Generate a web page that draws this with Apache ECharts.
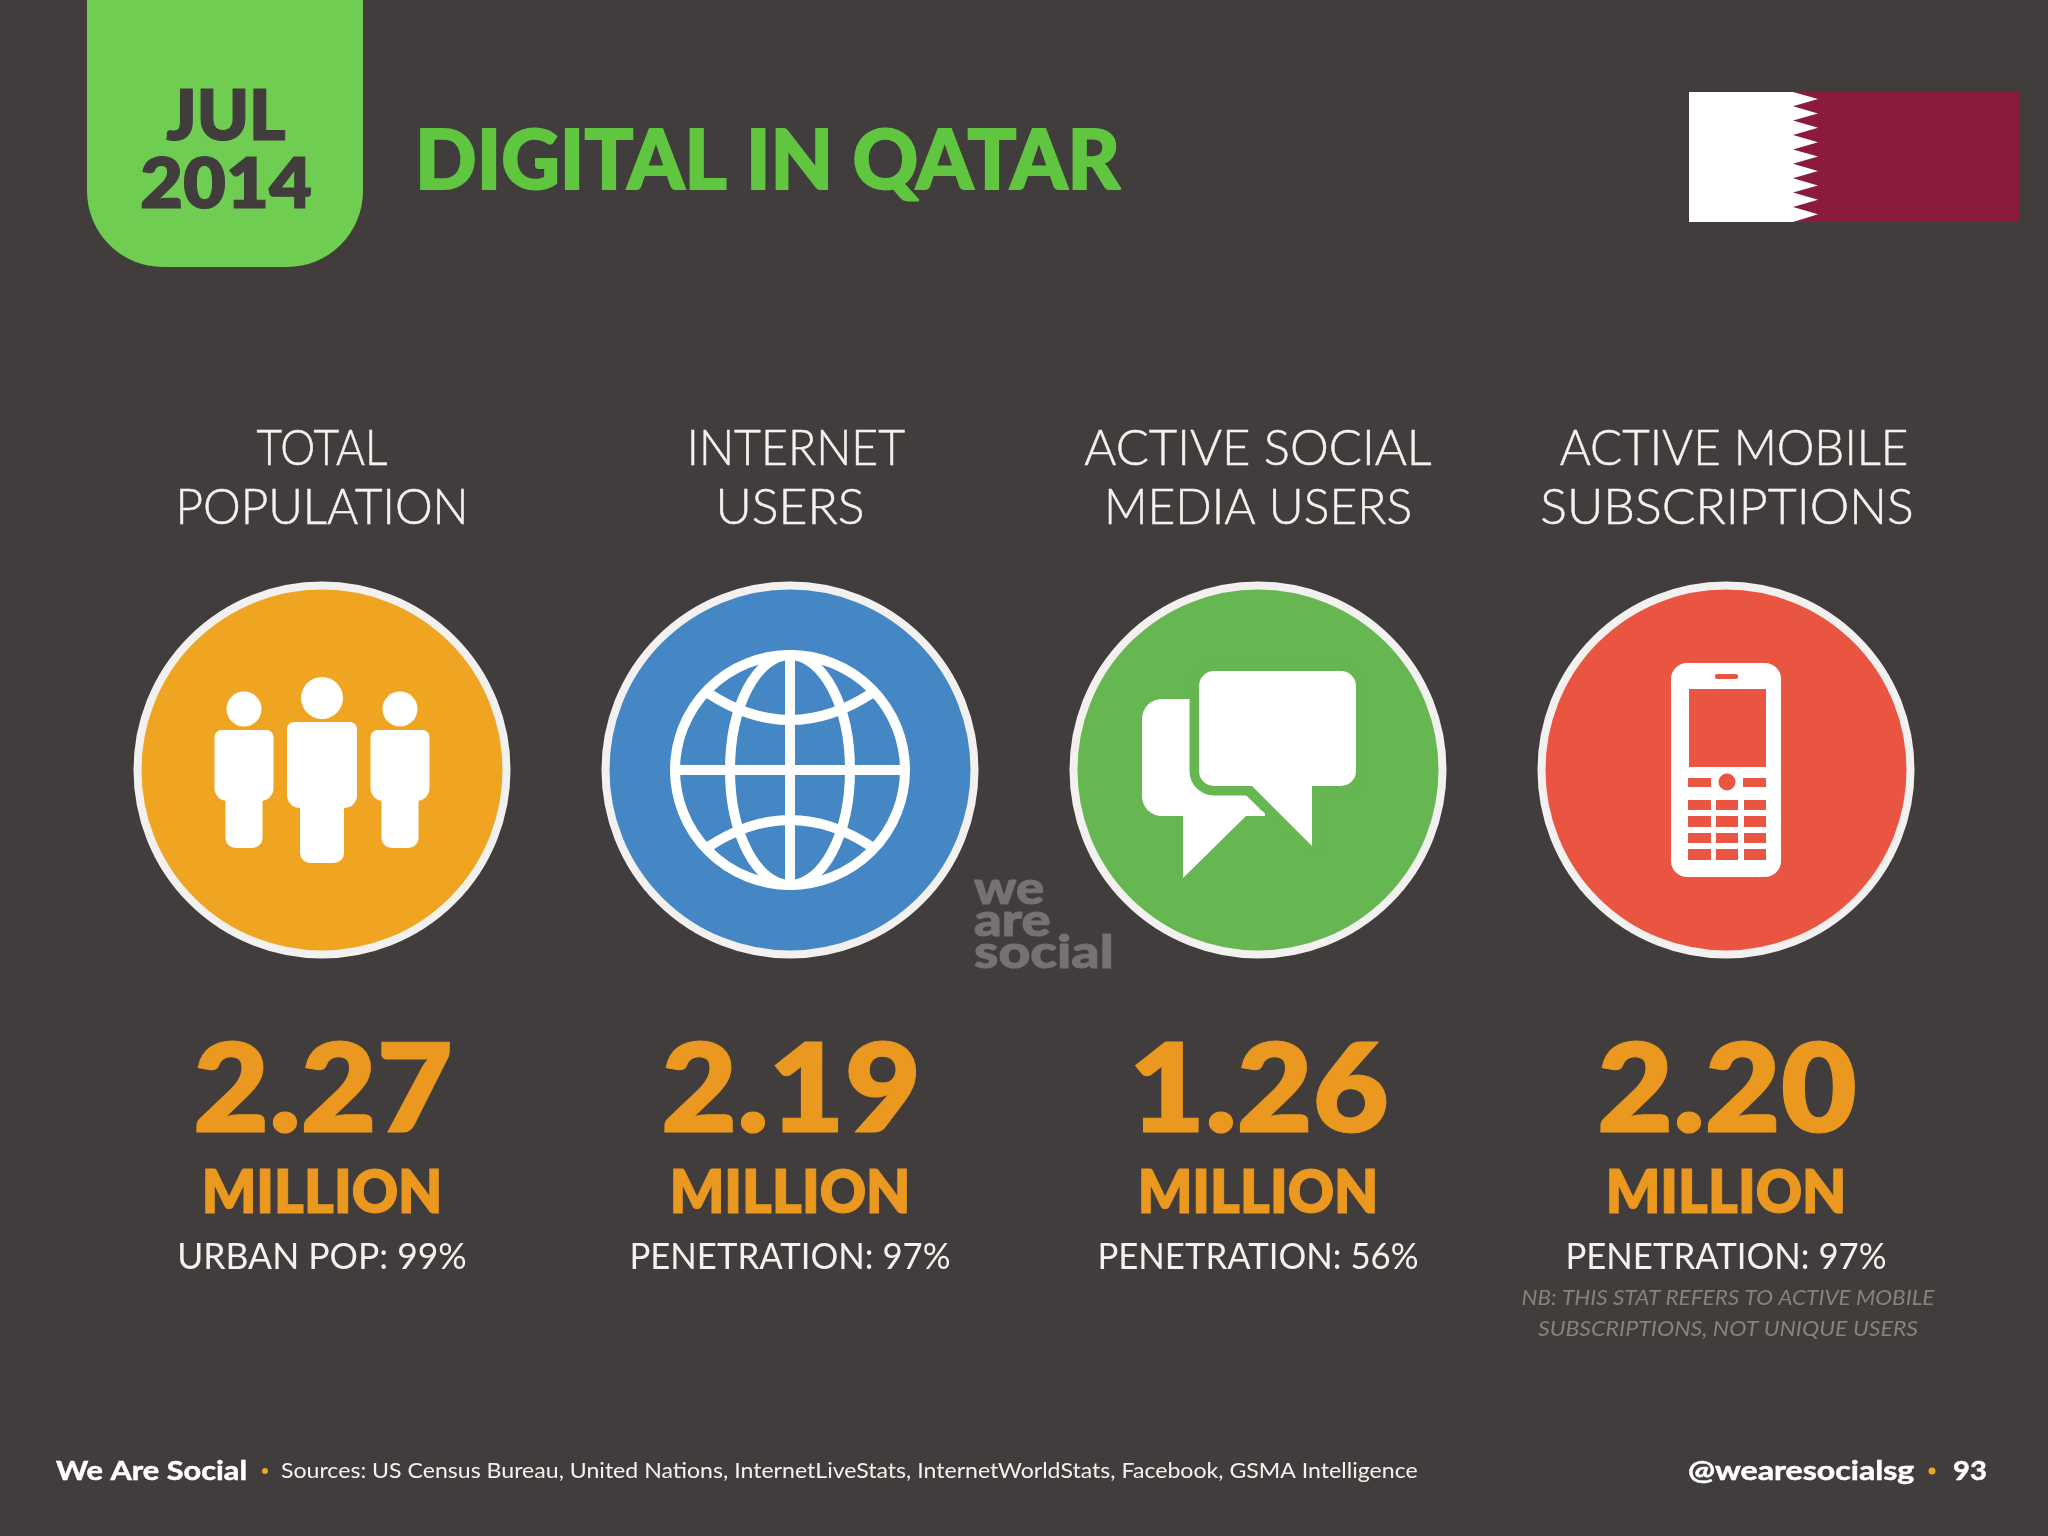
<!DOCTYPE html>
<html>
<head>
<meta charset="utf-8">
<title>Digital in Qatar</title>
<style>
  html, body { margin: 0; padding: 0; background: #413d3c; }
  #output { width: 2048px; height: 1536px; }
</style>
</head>
<body>
<div id="output"></div>
<script src="https://cdn.jsdelivr.net/npm/echarts@6/dist/echarts.min.js"></script>
<script>
const headings = [['TOTAL', 'POPULATION'], ['INTERNET', 'USERS'], ['ACTIVE SOCIAL', 'MEDIA USERS'], ['ACTIVE MOBILE', 'SUBSCRIPTIONS']]
const categories = headings.map(h => h.join(' '))
const values = [2.27, 2.19, 1.26, 2.20]
const unit = 'MILLION'
const subLabels = ['URBAN POP: 99%', 'PENETRATION: 97%', 'PENETRATION: 56%', 'PENETRATION: 97%']
const note = ['NB: THIS STAT REFERS TO ACTIVE MOBILE', 'SUBSCRIPTIONS, NOT UNIQUE USERS']
const sources = 'Sources: US Census Bureau, United Nations, InternetLiveStats, InternetWorldStats, Facebook, GSMA Intelligence'

const BG = '#413d3c'
const WHITE = '#ffffff'
const RING = '#f3f1ef'
const ORANGE = '#ea981f'
const LIGHT = '#f4f2f0'
const NOTE = '#86827e'
const MARK = '#767272'
const FONT = 'Lato, sans-serif'
const circleColors = ['#efa521', '#4586c5', '#66b651', '#e95540']
// horizontal squeeze and nudge per heading line, Lato runs wider than the slide font
const headingFit = [[[0.885, 0], [0.953, 0]], [[0.93, 6], [1, 0]], [[0.98, 0], [0.96, 0]], [[0.95, 8], [1, 1]]]

const chart = echarts.init(document.getElementById('output'))

function text (str, x, y, size, weight, fill, opts = {}) {
  return {
    type: 'text',
    x,
    y,
    scaleX: opts.scaleX || 1,
    style: {
      text: str,
      fill,
      font: `${opts.italic ? 'italic' : ''} ${weight} ${size}px ${FONT}`,
      align: opts.align || 'center',
      verticalAlign: 'middle',
      stroke: opts.bold ? fill : null,
      lineWidth: opts.bold || 0
    }
  }
}

function box (x0, y0, x1, y1, r, fill) {
  return { type: 'rect', shape: { x: x0, y: y0, width: x1 - x0, height: y1 - y0, r }, style: { fill } }
}

function dot (cx, cy, r, fill) {
  return { type: 'circle', shape: { cx, cy, r }, style: { fill } }
}

function peopleIcon () {
  const person = (dx, headY, headR, bx, top, mid, lx, bottom) => [
    dot(dx, headY, headR, WHITE),
    box(dx - bx, top, dx + bx, mid, [7, 7, 13, 13], WHITE),
    box(dx - lx, mid - 8, dx + lx, bottom, [0, 0, 10, 10], WHITE)
  ]
  return [
    ...person(-78, -61, 17.5, 29.5, -40, 31, 18.5, 78),
    ...person(0, -72, 21, 35, -48, 38, 22, 93),
    ...person(78, -61, 17.5, 29.5, -40, 31, 18.5, 78)
  ]
}

function globeIcon () {
  const line = { stroke: WHITE, fill: null, lineWidth: 10 }
  const parallel = (endY, ctrlY) => ({
    type: 'bezierCurve',
    shape: { x1: -82, y1: endY, x2: 82, y2: endY, cpx1: 0, cpy1: ctrlY },
    style: line
  })
  return [
    { type: 'circle', shape: { cx: 0, cy: 0, r: 115 }, style: line },
    { type: 'ellipse', shape: { cx: 0, cy: 0, rx: 60, ry: 115 }, style: line },
    { type: 'line', shape: { x1: 0, y1: -115, x2: 0, y2: 115 }, style: line },
    { type: 'line', shape: { x1: -115, y1: 0, x2: 115, y2: 0 }, style: line },
    parallel(-77, -23),
    parallel(77, 23)
  ]
}

function bubbleIcon (green) {
  const tail = { type: 'polygon', shape: { points: [[-8, 16], [54, 16], [54, 76]] } }
  const gap = { stroke: green, lineWidth: 19, lineJoin: 'round' }
  return [
    box(-116, -71, 7, 46, 20, WHITE),
    { type: 'polygon', shape: { points: [[-75, 40], [-75, 108], [-12, 46], [7, 46], [7, 40]] }, style: { fill: WHITE } },
    { type: 'rect', shape: { x: -59, y: -99, width: 157, height: 115, r: 15 }, style: { fill: WHITE, ...gap } },
    { ...tail, style: { fill: WHITE, ...gap } },
    box(-59, -99, 98, 16, 15, WHITE),
    { ...tail, shape: { points: [[-8, 14], [54, 14], [54, 76]] }, style: { fill: WHITE } }
  ]
}

function phoneIcon (red) {
  const keyColumns = [[-38, -15], [-10, 12], [18, 40]]
  const keyRows = [[30, 40], [46, 57], [63, 73], [79, 90]]
  const keys = []
  keyRows.forEach(([y0, y1]) => keyColumns.forEach(([x0, x1]) => keys.push(box(x0, y0, x1, y1, 0, red))))
  return [
    box(-55, -107, 55, 107, 16, WHITE),
    box(-11, -96, 12, -91, 2, red),
    box(-37, -81, 40, -3, 0, red),
    box(-38, 8, -15, 17, 0, red),
    box(17, 8, 40, 17, 0, red),
    dot(1, 12, 8.5, red),
    ...keys
  ]
}

function renderColumn (params, api) {
  const i = params.dataIndex
  const [cx, cy] = api.coord([api.value(0), api.value(1)])
  const color = circleColors[i]
  const icons = [peopleIcon, globeIcon, bubbleIcon, phoneIcon]
  const fit = headingFit[i]
  const children = [
    { type: 'circle', shape: { cx: 0, cy: 0, r: 184.5 }, style: { fill: color, stroke: RING, lineWidth: 8 } },
    ...icons[i](color),
    text(headings[i][0], fit[0][1], -321, 50, 300, LIGHT, { scaleX: fit[0][0], bold: 0.5 }),
    text(headings[i][1], fit[1][1], -262, 50, 300, LIGHT, { scaleX: fit[1][0], bold: 0.5 }),
    text(api.value(2).toFixed(2), 1, 322, 124, 800, ORANGE, { scaleX: 1.06, bold: 1 }),
    text(unit, 0, 424, 60, 800, ORANGE, { scaleX: 0.95, bold: 1 }),
    text(subLabels[i], 0, 487, 36, 400, LIGHT, { scaleX: i ? 0.965 : 0.985 })
  ]
  if (i === 3) {
    children.push(text(note[0], 2, 528, 22, 400, NOTE, { italic: true, scaleX: 1.023 }))
    children.push(text(note[1], 2, 559, 22, 400, NOTE, { italic: true, scaleX: 1.05 }))
  }
  return { type: 'group', x: cx, y: cy, children }
}

const flagTeeth = []
for (let t = 0; t < 9; ++t) {
  flagTeeth.push([1818, 99 + t * 14.4])
  if (t < 8) flagTeeth.push([1793, 106.2 + t * 14.4])
}

chart.setOption({
  backgroundColor: BG,
  animation: false,
  title: {
    text: 'DIGITAL IN QATAR',
    left: 410,
    top: 117,
    textStyle: { color: '#60c640', fontFamily: FONT, fontSize: 81, fontWeight: 900, textBorderColor: '#60c640', textBorderWidth: 2 }
  },
  grid: { left: 88, width: 1872, top: 582, height: 376 },
  xAxis: { type: 'category', data: categories, show: false },
  yAxis: { type: 'value', min: -1, max: 1, show: false },
  series: [{
    type: 'custom',
    renderItem: renderColumn,
    clip: false,
    encode: { x: 0, y: 1 },
    data: values.map((v, i) => [i, 0, v])
  }],
  graphic: [
    { type: 'rect', shape: { x: 87, y: -90, width: 276, height: 357, r: 76 }, style: { fill: '#6fce52' } },
    text('JUL', 226, 117, 70, 800, BG, { bold: 1 }),
    text('2014', 226, 185, 70, 800, BG, { scaleX: 1.06, bold: 1 }),
    { type: 'rect', shape: { x: 1689, y: 92, width: 331, height: 130 }, style: { fill: '#8b1a3b' } },
    { type: 'polygon', shape: { points: [[1689, 92], [1793, 92], ...flagTeeth, [1793, 222], [1689, 222]] }, style: { fill: WHITE } },
    text('we', 974, 889, 46, 900, MARK, { align: 'left', scaleX: 1.14, bold: 1 }),
    text('are', 974, 921, 46, 900, MARK, { align: 'left', scaleX: 1.18, bold: 1 }),
    text('social', 974, 953, 46, 900, MARK, { align: 'left', scaleX: 1.2, bold: 1 }),
    text('We Are Social', 56, 1471, 27, 700, WHITE, { align: 'left', scaleX: 1.14, bold: 0.5 }),
    dot(265, 1471, 3, '#efa521'),
    text(sources, 281, 1471, 22, 400, LIGHT, { align: 'left', scaleX: 1.05 }),
    text('@wearesocialsg', 1688, 1471, 27, 700, WHITE, { align: 'left', scaleX: 1.19, bold: 0.5 }),
    dot(1932, 1471, 3.5, '#efa521'),
    text('93', 1953, 1471, 27, 700, WHITE, { align: 'left', scaleX: 1.08, bold: 0.5 })
  ]
})
</script>
</body>
</html>
